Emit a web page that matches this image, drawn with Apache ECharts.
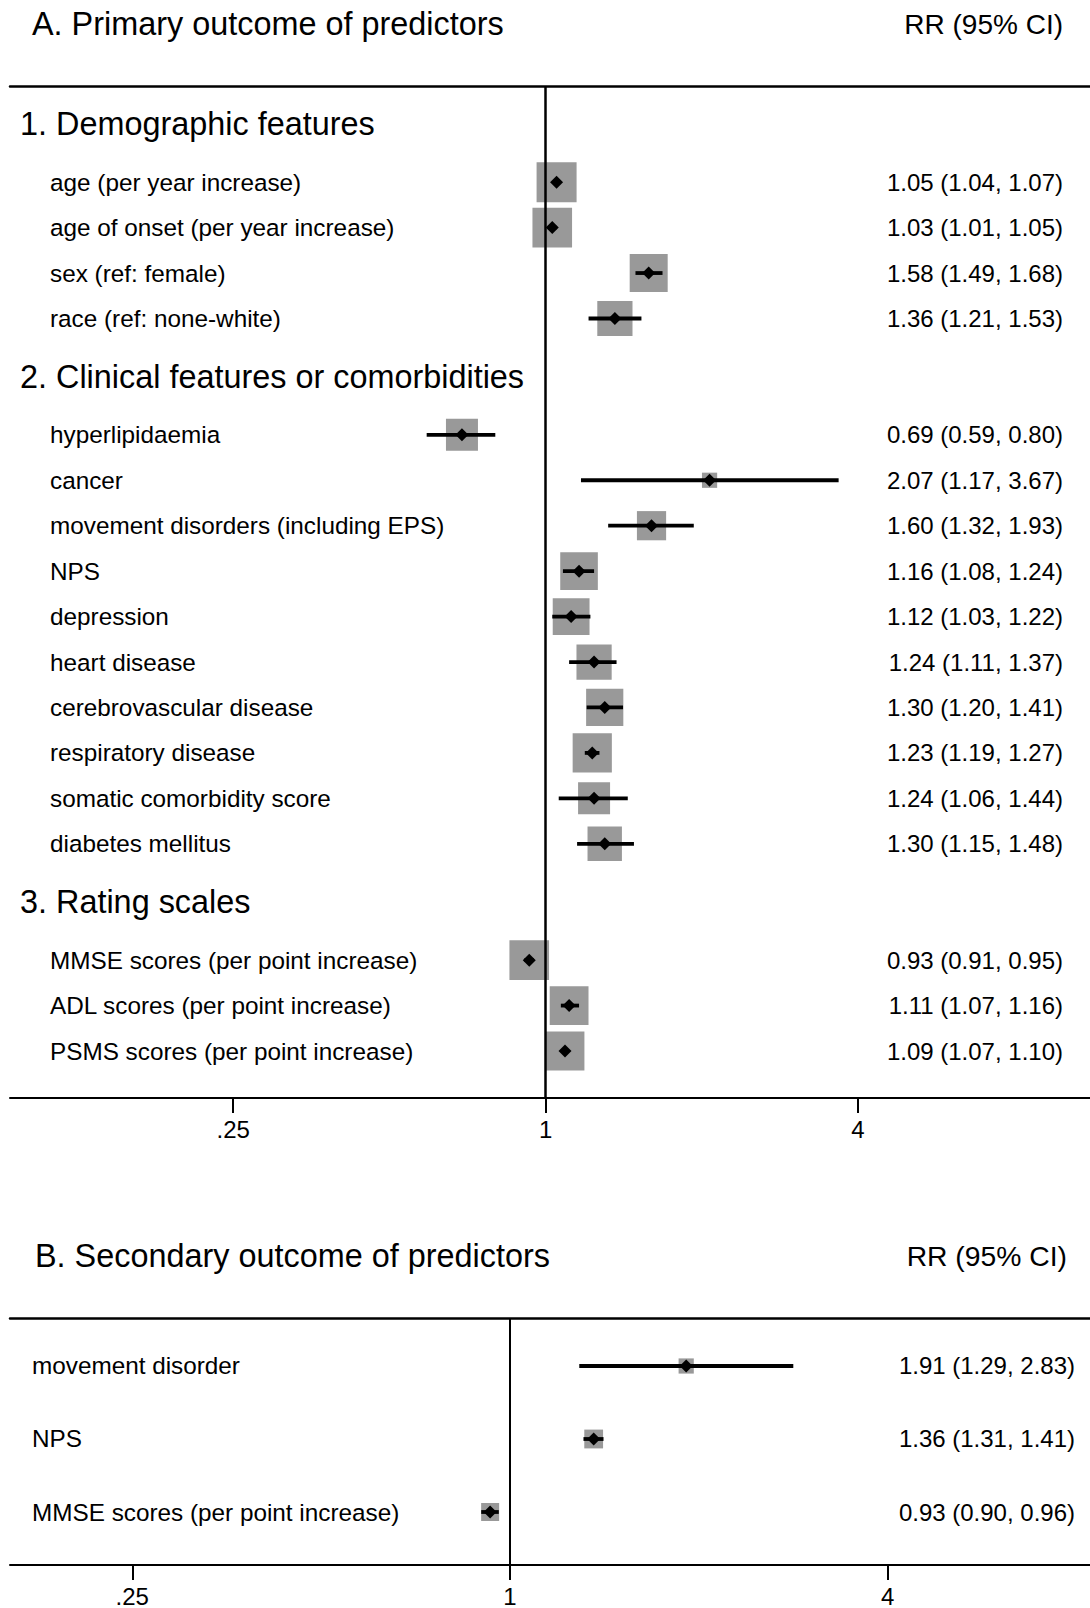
<!DOCTYPE html>
<html>
<head>
<meta charset="utf-8">
<script src="https://cdn.jsdelivr.net/npm/echarts@6/dist/echarts.min.js"></script>
<style>
html,body{margin:0;padding:0;background:#fff;}
#chart{width:1090px;height:1608px;}
</style>
</head>
<body>
<div id="chart"></div>
<script>
// ================= DATA =================
// Panel A: primary outcome
const sectionsA = ['1. Demographic features', '2. Clinical features or comorbidities', '3. Rating scales'];
const predictorsA = [
  'age (per year increase)',
  'age of onset (per year increase)',
  'sex (ref: female)',
  'race (ref: none-white)',
  'hyperlipidaemia',
  'cancer',
  'movement disorders (including EPS)',
  'NPS',
  'depression',
  'heart disease',
  'cerebrovascular disease',
  'respiratory disease',
  'somatic comorbidity score',
  'diabetes mellitus',
  'MMSE scores (per point increase)',
  'ADL scores (per point increase)',
  'PSMS scores (per point increase)'
];
const sectionOfA = [0, 0, 0, 0, 1, 1, 1, 1, 1, 1, 1, 1, 1, 1, 2, 2, 2];
const rrA   = [1.05, 1.03, 1.58, 1.36, 0.69, 2.07, 1.60, 1.16, 1.12, 1.24, 1.30, 1.23, 1.24, 1.30, 0.93, 1.11, 1.09];
const lowA  = [1.04, 1.01, 1.49, 1.21, 0.59, 1.17, 1.32, 1.08, 1.03, 1.11, 1.20, 1.19, 1.06, 1.15, 0.91, 1.07, 1.07];
const highA = [1.07, 1.05, 1.68, 1.53, 0.80, 3.67, 1.93, 1.24, 1.22, 1.37, 1.41, 1.27, 1.44, 1.48, 0.95, 1.16, 1.10];
// relative study weight (box side, relative to the largest box)
const weightA = [1.00, 0.99, 0.95, 0.88, 0.80, 0.38, 0.73, 0.94, 0.92, 0.88, 0.93, 0.98, 0.80, 0.86, 0.99, 0.97, 0.97];

// Panel B: secondary outcome
const predictorsB = ['movement disorder', 'NPS', 'MMSE scores (per point increase)'];
const rrB   = [1.91, 1.36, 0.93];
const lowB  = [1.29, 1.31, 0.90];
const highB = [2.83, 1.41, 0.96];
const weightB = [0.38, 0.47, 0.45];

// x-axis tick labels
const tickValues = [0.25, 1, 4];
const headerRR = 'RR (95% CI)';
const titleA = 'A. Primary outcome of predictors';
const titleB = 'B. Secondary outcome of predictors';

// ================= LAYOUT =================
const FONT = "'Liberation Sans', Arial, Helvetica, sans-serif";
const HEADER_GAP = 1.28;
const BOX_MAX = 40;
const DIAMOND = 13;
const GREY = '#999999';
const LABEL_SIZE = 24.3;
const HEAD_SIZE = 32.4;

function buildRows(names, sectionOf, sections) {
  const items = [], headers = [];
  let pos = null, prev = -1;
  names.forEach((n, i) => {
    if (sectionOf && sectionOf[i] !== prev) {
      pos = pos === null ? 0 : pos + HEADER_GAP;
      headers.push({ text: sections[sectionOf[i]], pos: pos });
      prev = sectionOf[i];
      pos += HEADER_GAP;
    } else {
      pos = pos === null ? 0 : pos + 1;
    }
    items.push({ i: i, pos: pos });
  });
  return { items, headers, last: pos };
}

const rowsA = buildRows(predictorsA, sectionOfA, sectionsA);
const rowsB = buildRows(predictorsB, null, null);

function fmtCI(r, l, h) {
  return r.toFixed(2) + ' (' + l.toFixed(2) + ', ' + h.toFixed(2) + ')';
}

function itemRenderer(names, rr, low, high, cfg) {
  return function (params, api) {
    const cs = params.coordSys;
    const i = params.dataIndex;
    const y = api.value(1);
    const pt = api.coord([api.value(0), y]);
    const lo = api.coord([api.value(2), y]);
    const hi = api.coord([api.value(3), y]);
    const side = api.value(4) * BOX_MAX;
    const d = DIAMOND / 2;
    return {
      type: 'group',
      children: [
        { type: 'rect', shape: { x: pt[0] - side / 2, y: pt[1] - side / 2, width: side, height: side },
          style: { fill: GREY } },
        { type: 'line', shape: { x1: lo[0], y1: lo[1], x2: hi[0], y2: hi[1] },
          style: { stroke: '#000', lineWidth: 3.8 } },
        { type: 'polygon', shape: { points: [[pt[0], pt[1] - d], [pt[0] + d, pt[1]], [pt[0], pt[1] + d], [pt[0] - d, pt[1]]] },
          style: { fill: '#000' } },
        { type: 'text', x: cs.x + cfg.labelX, y: pt[1],
          style: { text: names[i], fill: '#000', fontSize: LABEL_SIZE, fontFamily: FONT, align: 'left', verticalAlign: 'middle' } },
        { type: 'text', x: cs.x + cs.width - cfg.valueRight, y: pt[1],
          style: { text: fmtCI(rr[i], low[i], high[i]), fill: '#000', fontSize: 24, fontFamily: FONT, align: 'right', verticalAlign: 'middle' } }
      ]
    };
  };
}

function headerRenderer(headers, cfg) {
  return function (params, api) {
    const cs = params.coordSys;
    const pt = api.coord([api.value(0), api.value(1)]);
    return {
      type: 'text', x: cs.x + cfg.headerX, y: pt[1],
      style: { text: headers[params.dataIndex].text, fill: '#000', fontSize: HEAD_SIZE, fontFamily: FONT, align: 'left', verticalAlign: 'middle' }
    };
  };
}

function tickFmt(v) {
  const s = String(+v.toFixed(4));
  return v < 1 ? s.replace(/^0/, '') : s;
}

function bottomAxis(gridIndex, min, max) {
  return {
    gridIndex: gridIndex, type: 'log', logBase: 2, min: min, max: max, position: 'bottom',
    axisLine: { onZero: false, lineStyle: { color: '#000', width: 2 } },
    axisTick: { show: true, length: 15, customValues: tickValues, lineStyle: { color: '#000', width: 2 } },
    axisLabel: { customValues: tickValues, formatter: tickFmt, fontSize: 24, color: '#000', fontFamily: FONT, margin: 19 },
    splitLine: { show: false }
  };
}
function topAxis(gridIndex, min, max) {
  return {
    gridIndex: gridIndex, type: 'log', logBase: 2, min: min, max: max, position: 'top',
    axisLine: { onZero: false, lineStyle: { color: '#000', width: 2.5 } },
    axisTick: { show: false }, axisLabel: { show: false }, splitLine: { show: false }
  };
}

// x extents (log2 scale) chosen so the plotting area spans the full width
const X_A = [0.09288, 11.196];
const X_B = [0.1596, 8.41];

const chart = echarts.init(document.getElementById('chart'), null, { renderer: 'svg' });

const option = {
  animation: false,
  backgroundColor: '#fff',
  title: [
    { text: titleA, left: 32, top: 8, padding: 0, textStyle: { fontSize: HEAD_SIZE, fontWeight: 'normal', color: '#000', fontFamily: FONT } },
    { text: headerRR, right: 27, top: 10, padding: 0, textStyle: { fontSize: 28, fontWeight: 'normal', color: '#000', fontFamily: FONT } },
    { text: titleB, left: 35, top: 1240, padding: 0, textStyle: { fontSize: HEAD_SIZE, fontWeight: 'normal', color: '#000', fontFamily: FONT } },
    { text: headerRR, right: 23, top: 1242, padding: 0, textStyle: { fontSize: 28.3, fontWeight: 'normal', color: '#000', fontFamily: FONT } }
  ],
  grid: [
    { left: 10, right: 0, top: 86, height: 1012, containLabel: false },
    { left: 10, right: 0, top: 1318, height: 247, containLabel: false }
  ],
  xAxis: [
    bottomAxis(0, X_A[0], X_A[1]),
    topAxis(0, X_A[0], X_A[1]),
    bottomAxis(1, X_B[0], X_B[1]),
    topAxis(1, X_B[0], X_B[1])
  ],
  yAxis: [
    { gridIndex: 0, type: 'value', inverse: true, min: -0.836, max: rowsA.last + 1.034, show: false },
    { gridIndex: 1, type: 'value', inverse: true, min: -0.6575, max: rowsB.last + 0.726, show: false }
  ],
  series: [
    {
      type: 'custom', xAxisIndex: 0, yAxisIndex: 0, encode: { x: 0, y: 1 },
      renderItem: headerRenderer(rowsA.headers, { headerX: 10 }),
      data: rowsA.headers.map(h => [1, h.pos]), silent: true, z: 3
    },
    {
      type: 'custom', xAxisIndex: 0, yAxisIndex: 0, encode: { x: 0, y: 1 },
      renderItem: itemRenderer(predictorsA, rrA, lowA, highA, { labelX: 40, valueRight: 27 }),
      data: rowsA.items.map(r => [rrA[r.i], r.pos, lowA[r.i], highA[r.i], weightA[r.i]]),
      silent: true, z: 3,
      markLine: {
        silent: true, symbol: ['none', 'none'], label: { show: false },
        lineStyle: { color: '#000', width: 2.5, type: 'solid' },
        data: [{ xAxis: 1 }], z: 5
      }
    },
    {
      type: 'custom', xAxisIndex: 2, yAxisIndex: 1, encode: { x: 0, y: 1 },
      renderItem: itemRenderer(predictorsB, rrB, lowB, highB, { labelX: 22, valueRight: 15 }),
      data: rowsB.items.map(r => [rrB[r.i], r.pos, lowB[r.i], highB[r.i], weightB[r.i]]),
      silent: true, z: 3,
      markLine: {
        silent: true, symbol: ['none', 'none'], label: { show: false },
        lineStyle: { color: '#000', width: 2, type: 'solid' },
        data: [{ xAxis: 1 }], z: 5
      }
    }
  ]
};
chart.setOption(option);
</script>
</body>
</html>
